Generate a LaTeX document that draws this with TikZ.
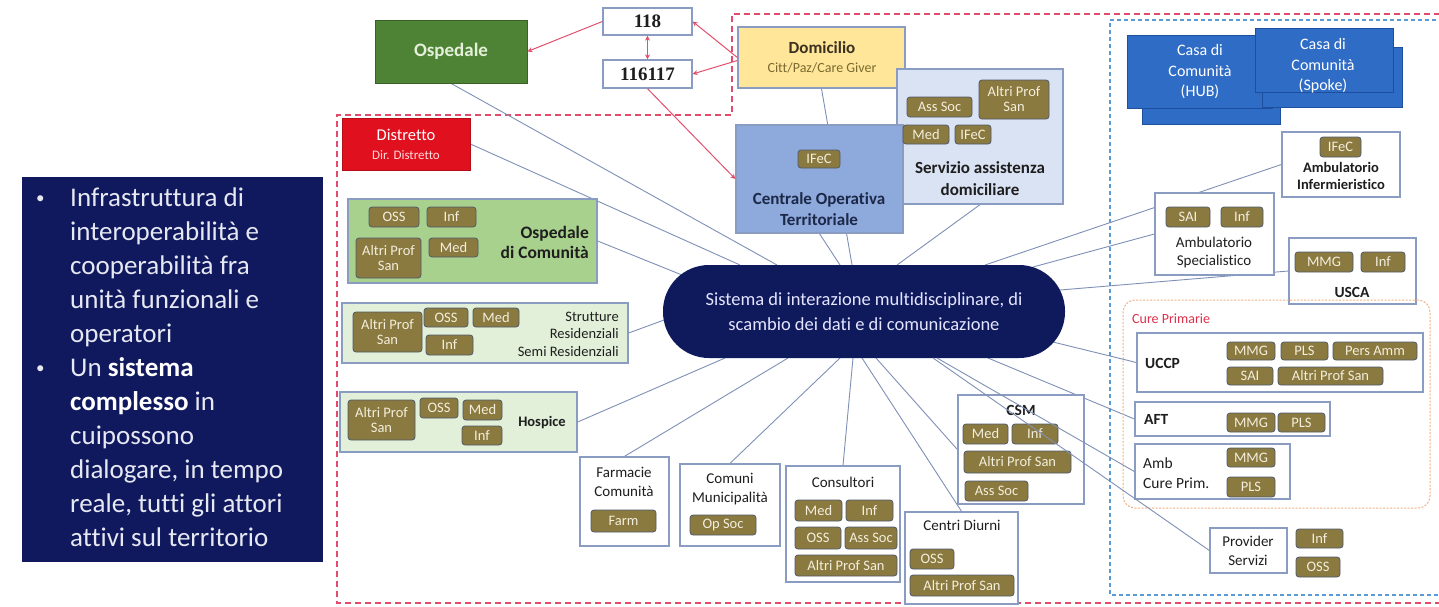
\documentclass[tikz,border=0pt]{standalone}
\usepackage{fontspec}
\setmainfont{Carlito}[Ligatures=NoCommon]
\newfontfamily\numfont{Liberation Serif}
\usetikzlibrary{fit,arrows.meta}
\pgfdeclarelayer{back}
\pgfdeclarelayer{bg}
\pgfsetlayers{back,bg,main}
\definecolor{navyc}{HTML}{10195E}
\definecolor{pillc}{HTML}{0E1A5C}
\definecolor{ospc}{HTML}{4E8234}
\definecolor{ospt}{HTML}{E4F0DA}
\definecolor{boxc}{HTML}{8A9CC2}
\definecolor{domc}{HTML}{FFE699}
\definecolor{domt}{HTML}{3A3020}
\definecolor{doms}{HTML}{7A6A30}
\definecolor{cotc}{HTML}{8EA9DB}
\definecolor{cott}{HTML}{1C2848}
\definecolor{sadc}{HTML}{DAE3F3}
\definecolor{distc}{HTML}{E0101E}
\definecolor{odcc}{HTML}{A9D18E}
\definecolor{lgc}{HTML}{E2F0D9}
\definecolor{tagc}{HTML}{8B7A3F}
\definecolor{tagb}{HTML}{4F5A6C}
\definecolor{tagt}{HTML}{F3EEDD}
\definecolor{casac}{HTML}{2F6CC6}
\definecolor{casab}{HTML}{1E4F9E}
\definecolor{connc}{HTML}{7F90B6}
\definecolor{redl}{HTML}{E2506E}
\definecolor{redd}{HTML}{E24C6C}
\definecolor{blued}{HTML}{5B9BD5}
\definecolor{cpb}{HTML}{F4B183}
\definecolor{cpt}{HTML}{E0304A}
\definecolor{txt}{HTML}{1E1E1E}
\definecolor{lefttxt}{HTML}{E6E8F2}
\newcommand\fs[2]{\fontsize{#1}{#2}\selectfont}
\newcommand\bx[6]{\node[#2, fit={(#3,#4)(#5,#6)}] (#1) {};}
\newcommand\tg[6]{\node[tag, fit={(#2,#3)(#4,#5)}] (#1) {};\node[tagtext] (#1-t) at (#1.center) {#6};}
\begin{document}
\begin{tikzpicture}[x=1pt,y=-1pt,
  box/.style={draw=boxc,line width=1.3pt,fill=white,inner sep=0pt},
  tag/.style={draw=tagb,line width=0.8pt,fill=tagc,rounded corners=3pt,inner sep=0pt},
  tagtext/.style={text=tagt,font=\fs{14.5}{15},align=center,inner sep=0pt},
  lbl/.style={text=txt,font=\fs{15}{18.5},align=center,inner sep=0pt},
  blbl/.style={text=txt,font=\bfseries\fs{15.5}{18},align=center,inner sep=0pt},
  lt/.style={text=lefttxt,font=\fs{27}{34},inner sep=0pt},
  casat/.style={text=white,font=\fs{16}{20.5},align=center,inner sep=0pt},
  conn/.style={draw=connc,line width=0.9pt},
  rarr/.style={draw=redl,line width=1pt,-{Stealth[length=5pt,width=5pt]}}]
\useasboundingbox (0,0) rectangle (1439,606);
\begin{pgfonlayer}{back}
\fill[white] (0,0) rectangle (1439,606);
\end{pgfonlayer}

% ---------- left panel ----------
\node[fill=navyc,inner sep=0pt,fit={(22,177)(323,562)}] (lbox) {};
\foreach \t [count=\i] in {Infrastruttura di,interoperabilità e,cooperabilità fra,unità funzionali e,operatori,Un \textbf{\color{white}sistema},\textbf{\color{white}complesso} in,cuipossono,{dialogare, in tempo},{reale, tutti gli attori},attivi sul territorio}
  {\node[lt,anchor=base west] (lt\i) at (70,{206+34*(\i-1)}) {\t};}
\node[lt,font=\fs{17}{20},anchor=base west] (bul1) at (36,203) {•};
\node[lt,font=\fs{17}{20},anchor=base west] (bul2) at (36,373) {•};

% ---------- top nodes ----------
\node[fill=ospc,draw=ospc!75!black,line width=0.8pt,inner sep=0pt,fit={(375,20)(527,83)}] (osp) {};
\node[font=\bfseries\fs{19}{22},text=ospt] (osp-t) at (osp.center) {Ospedale};
\bx{n118}{box}{603}{8}{692}{35}
\node[font=\numfont\bfseries\fs{19}{20},text=txt] (n118-t) at (n118.center) {118};
\bx{n116}{box}{603}{60}{692}{88}
\node[font=\numfont\bfseries\fs{19}{20},text=txt] (n116-t) at (n116.center) {116117};

\bx{dom}{box,fill=domc}{738}{27}{905}{88}
\node[font=\bfseries\fs{17}{20},text=domt] (dom-t1) at (822,48) {Domicilio};
\node[font=\fs{14}{16},text=doms] (dom-t2) at (822,68) {Citt/Paz/Care Giver};

\bx{sad}{box,fill=sadc}{897}{69}{1063}{204}
\bx{cot}{box,fill=cotc}{736}{125}{903}{233}
\node[font=\bfseries\fs{17}{21},text=cott,align=center] (cot-t) at (819,209) {Centrale Operativa\\Territoriale};
\tg{cot-ifec}{798}{150}{840}{168}{IFeC}
\tg{sad-assoc}{907}{97}{972}{117}{Ass Soc}
\tg{sad-altri}{979}{80}{1049}{119}{Altri Prof\\San}
\tg{sad-med}{903}{125}{949}{144}{Med}
\tg{sad-ifec}{955}{125}{991}{144}{IFeC}
\node[font=\bfseries\fs{17}{22},text=txt,align=center] (sad-t) at (980,179) {Servizio assistenza\\domiciliare};

% ---------- left column ----------
\node[fill=distc,draw=distc!80!black,line width=0.8pt,inner sep=0pt,fit={(342,118)(470,170)}] (dist) {};
\node[font=\fs{16.5}{18},text=white] (dist-t1) at (406,135) {Distretto};
\node[font=\fs{13}{15},text=white!85!red] (dist-t2) at (406,155) {Dir. Distretto};

\bx{odc}{box,fill=odcc}{348}{199}{597}{283}
\tg{odc-oss}{369}{207}{419}{227}{OSS}
\tg{odc-inf}{427}{207}{476}{227}{Inf}
\tg{odc-altri}{356}{238}{421}{278}{Altri Prof\\San}
\tg{odc-med}{429}{238}{478}{257}{Med}
\node[font=\bfseries\fs{17.5}{20},text=txt,align=right,anchor=east,inner sep=0pt] (odc-t) at (589,242) {Ospedale\\di Comunità};

\bx{strut}{box,fill=lgc}{342}{303}{628}{363}
\tg{strut-altri}{353}{312}{422}{352}{Altri Prof\\San}
\tg{strut-oss}{424}{308}{468}{327}{OSS}
\tg{strut-med}{473}{308}{519}{327}{Med}
\tg{strut-inf}{426}{335}{473}{355}{Inf}
\node[font=\fs{14.5}{17.5},text=txt,align=right,anchor=east,inner sep=0pt] (strut-t) at (619,334) {Strutture\\Residenziali\\Semi Residenziali};

\bx{hosp}{box,fill=lgc}{340}{392}{577}{452}
\tg{hosp-altri}{348}{400}{415}{440}{Altri Prof\\San}
\tg{hosp-oss}{420}{398}{458}{418}{OSS}
\tg{hosp-med}{463}{400}{502}{420}{Med}
\tg{hosp-inf}{462}{426}{502}{445}{Inf}
\node[blbl,font=\bfseries\fs{14.5}{17}] (hosp-t) at (542,423) {Hospice};

% ---------- bottom row ----------
\bx{farm}{box}{580}{457}{669}{546}
\node[lbl] (farm-t) at (624,482) {Farmacie\\Comunità};
\tg{farm-f}{591}{510}{656}{532}{Farm}

\bx{comu}{box}{680}{464}{780}{546}
\node[lbl] (comu-t) at (730,489) {Comuni\\Municipalità};
\tg{comu-op}{690}{515}{756}{535}{Op Soc}

\bx{cons}{box}{786}{466}{900}{582}
\node[lbl] (cons-t) at (843,482) {Consultori};
\tg{cons-med}{795}{500}{842}{521}{Med}
\tg{cons-inf}{846}{500}{893}{521}{Inf}
\tg{cons-oss}{795}{527}{841}{549}{OSS}
\tg{cons-assoc}{845}{527}{897}{549}{Ass Soc}
\tg{cons-altri}{795}{555}{897}{576}{Altri Prof San}

\bx{cdiu}{box}{905}{512}{1018}{604}
\node[lbl] (cdiu-t) at (962,525) {Centri Diurni};
\tg{cdiu-oss}{910}{549}{954}{569}{OSS}
\tg{cdiu-altri}{910}{575}{1014}{596}{Altri Prof San}

\bx{csm}{box}{958}{395}{1084}{504}
\node[blbl] (csm-t) at (1021,410) {CSM};
\tg{csm-med}{963}{424}{1008}{444}{Med}
\tg{csm-inf}{1012}{424}{1058}{444}{Inf}
\tg{csm-altri}{964}{451}{1071}{473}{Altri Prof San}
\tg{csm-assoc}{965}{481}{1028}{501}{Ass Soc}

% ---------- centre ----------
\node[fill=pillc,rounded corners=46pt,inner sep=0pt,fit={(663,265)(1065,358)}] (pill) {};
\node[font=\fs{18.5}{24.5},text=white!90!blue,align=center] (pill-t) at (pill.center) {Sistema di interazione multidisciplinare, di\\scambio dei dati e di comunicazione};

% ---------- right side ----------
\node[fill=casac,draw=casab,line width=1pt,inner sep=0pt,fit={(1142,45)(1280,124)}] (hubb) {};
\node[fill=casac,draw=casab,line width=1pt,inner sep=0pt,fit={(1127,35)(1272,108)}] (hub) {};
\node[casat] (hub-t) at (1200,72) {Casa di\\Comunità\\(HUB)};
\node[fill=casac,draw=casab,line width=1pt,inner sep=0pt,fit={(1262,47)(1402,107)}] (spkb) {};
\node[fill=casac,draw=casab,line width=1pt,inner sep=0pt,fit={(1255,28)(1393,92)}] (spk) {};
\node[casat] (spk-t) at (1323,66) {Casa di\\Comunità\\(Spoke)};

\bx{ainf}{box}{1282}{132}{1400}{197}
\tg{ainf-ifec}{1320}{137}{1361}{157}{IFeC}
\node[blbl,font=\bfseries\fs{14.5}{16.5}] (ainf-t) at (1341,176) {Ambulatorio\\Infermieristico};

\bx{aspec}{box}{1155}{193}{1274}{275}
\tg{aspec-sai}{1166}{207}{1210}{227}{SAI}
\tg{aspec-inf}{1221}{207}{1263}{227}{Inf}
\node[lbl,font=\fs{15}{18}] (aspec-t) at (1214,252) {Ambulatorio\\Specialistico};

\bx{usca}{box}{1289}{238}{1416}{304}
\tg{usca-mmg}{1295}{252}{1353}{272}{MMG}
\tg{usca-inf}{1361}{252}{1405}{272}{Inf}
\node[blbl] (usca-t) at (1352,292) {USCA};

\node[draw=cpb,line width=1pt,dash pattern=on 2pt off 1.5pt,rounded corners=12pt,inner sep=0pt,fit={(1123,300)(1430,508)}] (cprim) {};
\node[text=cpt,font=\fs{14}{16},anchor=west,inner sep=0pt] (cprim-t) at (1132,319) {Cure Primarie};

\bx{uccp}{box}{1137}{333}{1423}{392}
\node[blbl,anchor=west] (uccp-t) at (1145,363) {UCCP};
\tg{uccp-mmg}{1227}{342}{1275}{360}{MMG}
\tg{uccp-pls}{1281}{342}{1328}{360}{PLS}
\tg{uccp-pamm}{1333}{342}{1417}{360}{Pers Amm}
\tg{uccp-sai}{1227}{367}{1273}{385}{SAI}
\tg{uccp-altri}{1278}{367}{1383}{385}{Altri Prof San}

\bx{aft}{box}{1135}{402}{1330}{436}
\node[blbl,anchor=west] (aft-t) at (1144,419) {AFT};
\tg{aft-mmg}{1227}{413}{1275}{432}{MMG}
\tg{aft-pls}{1278}{413}{1325}{432}{PLS}

\bx{acp}{box}{1135}{444}{1290}{499}
\node[lbl,font=\fs{15.5}{20},align=left,anchor=west] (acp-t) at (1143,473) {Amb\\Cure Prim.};
\tg{acp-mmg}{1227}{448}{1275}{467}{MMG}
\tg{acp-pls}{1227}{477}{1275}{497}{PLS}

\bx{prov}{box}{1210}{528}{1287}{573}
\node[lbl] (prov-t) at (1248,551) {Provider\\Servizi};
\tg{prov-inf}{1296}{529}{1343}{548}{Inf}
\tg{prov-oss}{1296}{557}{1340}{577}{OSS}

% ---------- connector end points on the central node ----------
\coordinate (p-osp) at (777,265);
\coordinate (p-dist) at (740,265);
\coordinate (p-odc) at (682,275);
\coordinate (p-strut) at (664,320);
\coordinate (p-hosp) at (725,358);
\coordinate (p-farm) at (788,358);
\coordinate (p-comu) at (840,358);
\coordinate (p-cons) at (853,358);
\coordinate (p-cdiu) at (862,358);
\coordinate (p-csm) at (876,358);
\coordinate (p-aft) at (988,358);
\coordinate (p-acp) at (937,358);
\coordinate (p-prov) at (933,358);
\coordinate (p-uccp) at (1053,342);
\coordinate (p-usca) at (1060,290);
\coordinate (p-aspec) at (1033,267);
\coordinate (p-ainf) at (985,265);
\coordinate (p-sad) at (897,265);
\coordinate (p-cot) at (840,265);
\coordinate (p-dom) at (852,265);

\begin{pgfonlayer}{bg}
\draw[draw=redd,line width=2.6pt,dash pattern=on 6pt off 4pt] (1450,14) -- (732,14) -- (732,115) -- (337,115) -- (337,603) -- (1450,603);
\draw[draw=blued,line width=2pt,dash pattern=on 4pt off 3pt] (1450,20) -- (1110,20) -- (1110,595) -- (1450,595);
\draw[conn] (osp.south) -- (p-osp);
\draw[conn] (dist.east) -- (p-dist);
\draw[conn] (odc.east) -- (p-odc);
\draw[conn] (strut.east) -- (p-strut);
\draw[conn] (hosp.east) -- (p-hosp);
\draw[conn] (farm.north) -- (p-farm);
\draw[conn] (comu.north) -- (p-comu);
\draw[conn] (cons.north) -- (p-cons);
\draw[conn] (cdiu.north) -- (p-cdiu);
\draw[conn] (csm.west) -- (p-csm);
\draw[conn] (aft.west) -- (p-aft);
\draw[conn] (uccp.west) -- (p-uccp);
\draw[conn] (usca.west) -- (p-usca);
\draw[conn] (aspec.west) -- (p-aspec);
\draw[conn] (ainf.west) -- (p-ainf);
\draw[conn] (sad.south) -- (p-sad);
\draw[conn] (cot.south) -- (p-cot);
\draw[conn] (dom.south) -- (p-dom);
\end{pgfonlayer}
% connectors that cross over the CSM box
\draw[conn] (acp.west) -- (p-acp);
\draw[conn] (prov.west) -- (p-prov);

% ---------- red emergency arrows ----------
\draw[rarr] (n118.west) -- (osp.east);
\draw[rarr] (dom.west) -- (n118.east);
\draw[rarr] ([yshift=-3pt]dom.west) -- (n116.east);
\draw[rarr,{Stealth[length=5pt,width=5pt]}-{Stealth[length=5pt,width=5pt]}] (n118.south) -- (n116.north);
\draw[rarr] (n116.south) -- (cot.west);
\end{tikzpicture}
\end{document}
